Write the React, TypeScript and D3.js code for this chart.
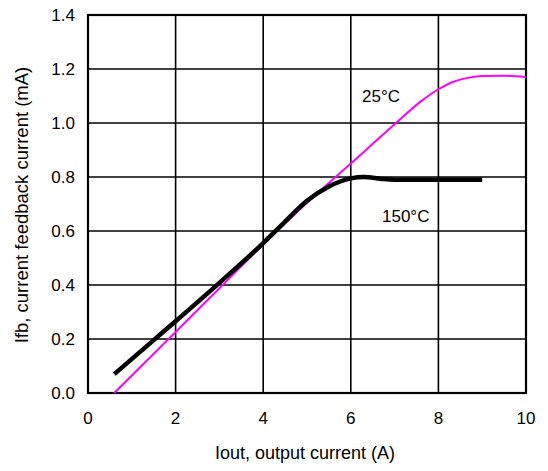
import React, { useEffect, useRef } from 'react';
import * as d3 from 'd3';

// 25°C curve (magenta)
const amps25 = [0.6, 2, 3, 4, 5, 6, 7, 7.6, 8, 8.3, 8.7, 9, 9.5, 10];
const ifb25 = [0, 0.226, 0.388, 0.55, 0.705, 0.85, 0.995, 1.08, 1.125, 1.15, 1.168, 1.174, 1.175, 1.17];

// 150°C curve (black)
const amps150 = [0.6, 1.5, 2, 3, 4, 4.5, 5, 5.5, 6, 6.3, 6.7, 7, 8, 9];
const ifb150 = [0.07, 0.196, 0.266, 0.408, 0.555, 0.635, 0.712, 0.765, 0.795, 0.8, 0.793, 0.79, 0.79, 0.79];

const xTicks = [0, 2, 4, 6, 8, 10];
const yTicks = [0, 0.2, 0.4, 0.6, 0.8, 1.0, 1.2, 1.4];

function drawChart(svgRef: React.RefObject<SVGSVGElement>) {
    const svg = d3.select(svgRef.current);
    svg.selectAll("*").remove();

    const w = 548;
    const h = 471;
    const left = 88, right = 526, top = 15, bottom = 393;
    const font = "Arial, 'Liberation Sans', sans-serif";

    svg.attr("width", w).attr("height", h).style("display", "block");

    const x = d3.scaleLinear().domain([0, 10]).range([left, right]);
    const y = d3.scaleLinear().domain([0, 1.4]).range([bottom, top]);

    svg.append("rect").attr("width", w).attr("height", h).attr("fill", "#fff");

    // grid
    svg.selectAll(".vg")
        .data(xTicks.slice(1, -1))
        .enter().append("line")
        .attr("x1", d => x(d)).attr("x2", d => x(d))
        .attr("y1", top).attr("y2", bottom)
        .attr("stroke", "#000").attr("stroke-width", 1.6);
    svg.selectAll(".hg")
        .data(yTicks.slice(1, -1))
        .enter().append("line")
        .attr("x1", left).attr("x2", right)
        .attr("y1", d => y(d)).attr("y2", d => y(d))
        .attr("stroke", "#000").attr("stroke-width", 1.6);

    svg.append("rect")
        .attr("x", left).attr("y", top)
        .attr("width", right - left).attr("height", bottom - top)
        .attr("fill", "none").attr("stroke", "#000").attr("stroke-width", 2.2);

    // tick labels
    svg.selectAll(".xt")
        .data(xTicks)
        .enter().append("text")
        .attr("x", d => x(d)).attr("y", bottom + 31)
        .attr("text-anchor", "middle")
        .attr("font-family", font).attr("font-size", 17)
        .text(d => d);
    svg.selectAll(".yt")
        .data(yTicks)
        .enter().append("text")
        .attr("x", left - 13).attr("y", d => y(d) + 6)
        .attr("text-anchor", "end")
        .attr("font-family", font).attr("font-size", 17)
        .text(d => d.toFixed(1));

    const line = d3.line<[number, number]>()
        .x(d => x(d[0]))
        .y(d => y(d[1]))
        .curve(d3.curveMonotoneX);

    svg.append("path")
        .attr("d", line(amps25.map((a, i) => [a, ifb25[i]]) as [number, number][]))
        .attr("fill", "none").attr("stroke", "#ff00ff").attr("stroke-width", 2);

    svg.append("path")
        .attr("d", line(amps150.map((a, i) => [a, ifb150[i]]) as [number, number][]))
        .attr("fill", "none").attr("stroke", "#000").attr("stroke-width", 4.5);

    svg.append("text")
        .attr("x", 362).attr("y", 102)
        .attr("font-family", font).attr("font-size", 17)
        .text("25°C");
    svg.append("text")
        .attr("x", 382).attr("y", 222)
        .attr("font-family", font).attr("font-size", 17)
        .text("150°C");

    svg.append("text")
        .attr("x", 305).attr("y", 459)
        .attr("text-anchor", "middle")
        .attr("font-family", font).attr("font-size", 18)
        .text("Iout, output current (A)");
    svg.append("text")
        .attr("transform", `translate(28, 205) rotate(-90)`)
        .attr("text-anchor", "middle")
        .attr("font-family", font).attr("font-size", 18.5)
        .text("Ifb, current feedback current (mA)");
}

export default function App() {
    const svg = useRef<SVGSVGElement>(null);

    useEffect(() => {
        drawChart(svg);
    }, []);

    return (
        <div id="chart" style={{ margin: -8 }}>
            <svg ref={svg} />
        </div>
    );
}
